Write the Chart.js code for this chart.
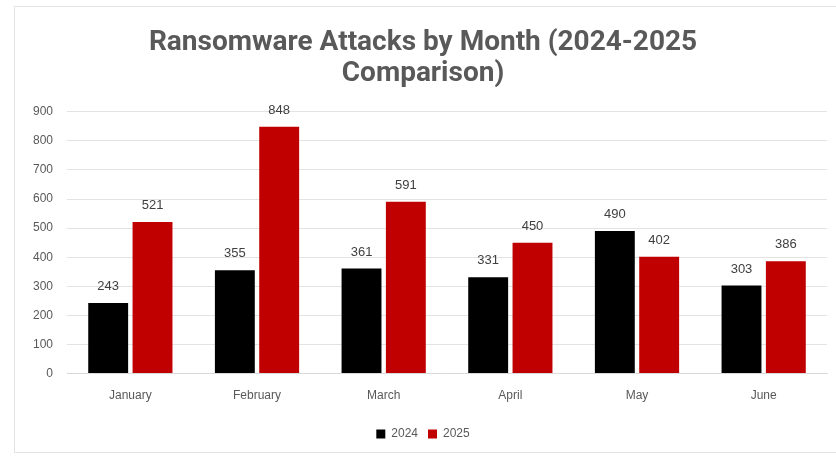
<!DOCTYPE html>
<html>
<head>
    <title>Ransomware Attacks by Month</title>
    <script src="https://cdn.jsdelivr.net/npm/chart.js"></script>
    <style>
        body { margin: 0; background: #fff; }
        #box { position: absolute; left: 14px; top: 6px; width: 824px; height: 445px; border: 1px solid #e3e3e3; }
    </style>
</head>
<body>
    <div id="box">
        <canvas id="attackChart" width="822" height="443"></canvas>
    </div>
    <script>
        // data
        const months = ['January', 'February', 'March', 'April', 'May', 'June'];
        const attacks2024 = [243, 355, 361, 331, 490, 303];
        const attacks2025 = [521, 848, 591, 450, 402, 386];
        const yTicks = [0, 100, 200, 300, 400, 500, 600, 700, 800, 900];

        // draws the value above every bar
        const valueLabels = {
            id: 'valueLabels',
            afterDatasetsDraw(chart) {
                const ctx = chart.ctx;
                ctx.save();
                ctx.font = '13px "Liberation Sans", Arial, sans-serif';
                ctx.fillStyle = '#404040';
                ctx.textAlign = 'center';
                ctx.textBaseline = 'bottom';
                chart.data.datasets.forEach((ds, i) => {
                    chart.getDatasetMeta(i).data.forEach((bar, j) => {
                        ctx.fillText(ds.data[j], bar.x, bar.y - 10);
                    });
                });
                ctx.restore();
            }
        };

        const ctx = document.getElementById('attackChart').getContext('2d');
        new Chart(ctx, {
            type: 'bar',
            data: {
                labels: months,
                datasets: [{
                    label: '2024',
                    data: attacks2024,
                    backgroundColor: '#000000'
                }, {
                    label: '2025',
                    data: attacks2025,
                    backgroundColor: '#c00000'
                }]
            },
            options: {
                responsive: false,
                animation: false,
                layout: { padding: { left: 4, right: 10, top: 16, bottom: 0 } },
                datasets: {
                    bar: { categoryPercentage: 0.7, barPercentage: 0.9 }
                },
                plugins: {
                    title: {
                        display: true,
                        text: ['Ransomware Attacks by Month (2024-2025', 'Comparison)'],
                        color: '#595959',
                        font: { family: 'Roboto', size: 28, weight: 'bold', lineHeight: 1.12 },
                        padding: { top: 4, bottom: 22 }
                    },
                    legend: {
                        position: 'bottom',
                        labels: {
                            color: '#595959',
                            font: { family: '"Liberation Sans", Arial, sans-serif', size: 12 },
                            boxWidth: 9,
                            boxHeight: 9,
                            padding: 10
                        }
                    },
                    tooltip: { enabled: false }
                },
                scales: {
                    x: {
                        grid: { display: false, drawTicks: false },
                        border: { color: '#d9d9d9' },
                        ticks: {
                            color: '#595959',
                            padding: 15,
                            maxRotation: 0,
                            font: { family: '"Liberation Sans", Arial, sans-serif', size: 12 }
                        }
                    },
                    y: {
                        min: 0,
                        max: yTicks[yTicks.length - 1],
                        afterBuildTicks: axis => { axis.ticks = yTicks.map(v => ({ value: v })); },
                        grid: { color: '#e3e3e3', drawTicks: false },
                        border: { display: false },
                        ticks: {
                            color: '#595959',
                            padding: 14,
                            font: { family: '"Liberation Sans", Arial, sans-serif', size: 12 }
                        }
                    }
                }
            },
            plugins: [valueLabels]
        });
    </script>
</body>
</html>
